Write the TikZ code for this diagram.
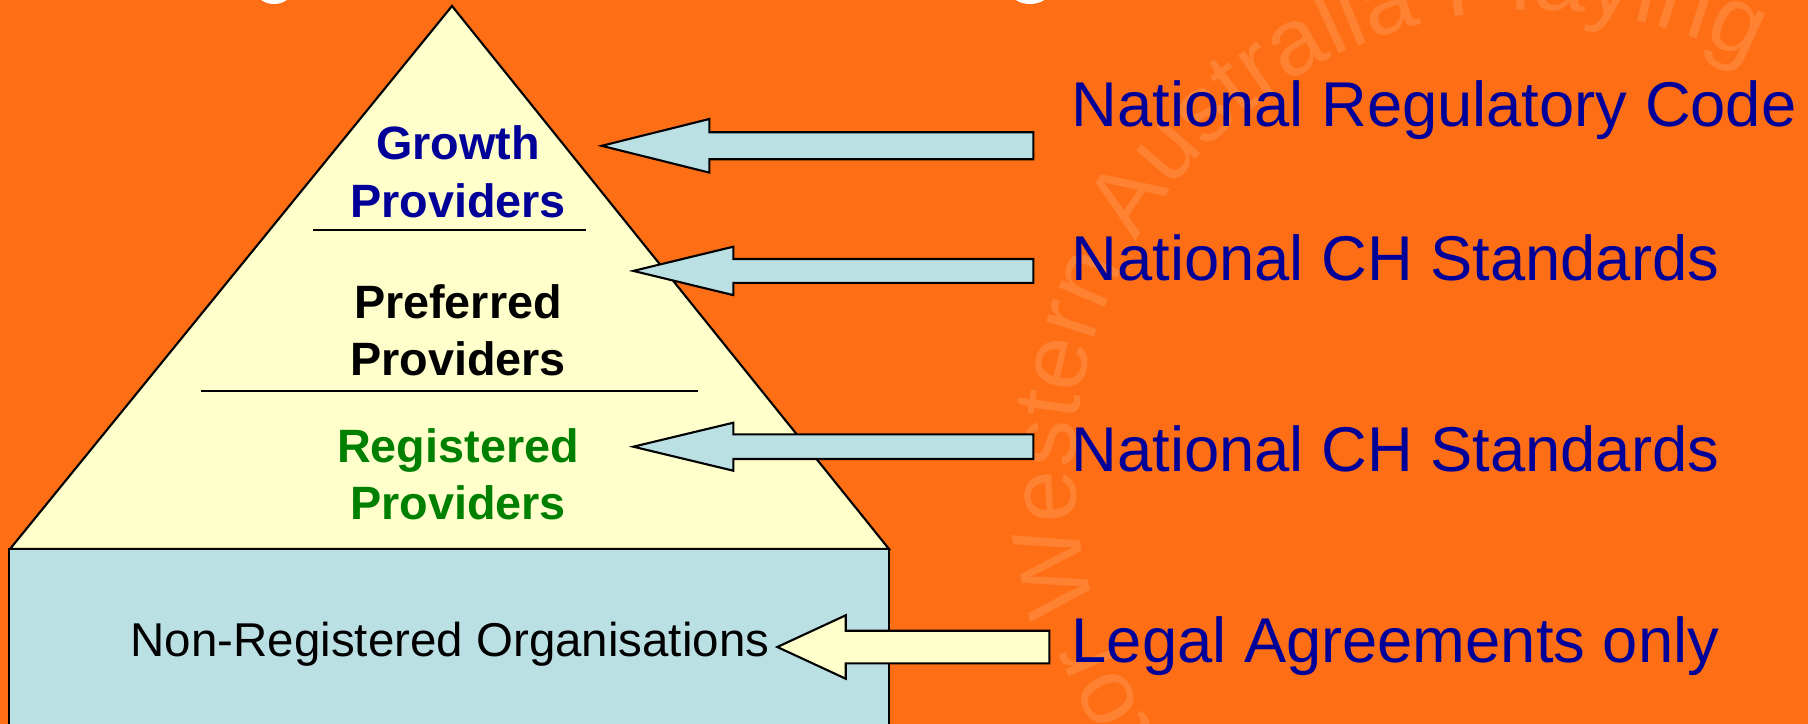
\documentclass[tikz,border=0pt]{standalone}
\usepackage{fontspec}
\setmainfont{Liberation Sans}
\usetikzlibrary{decorations.text}

\definecolor{bgorange}{RGB}{254,110,20}
\definecolor{wmorange}{RGB}{255,130,50}
\definecolor{pyryellow}{RGB}{255,255,204}
\definecolor{baseblue}{RGB}{187,224,227}
\definecolor{navy}{RGB}{0,0,153}
\definecolor{levelgreen}{RGB}{0,128,0}

% left-pointing block arrow: fill, tip x, axis y, head-back x, tail x, shaft half width, head half width
\newcommand\leftblockarrow[7]{%
  \filldraw[arrowbody, fill=#1] (#2,#3) -- (#4,#3-#7) -- (#4,#3-#6) -- (#5,#3-#6)
    -- (#5,#3+#6) -- (#4,#3+#6) -- (#4,#3+#7) -- cycle;}

\begin{document}
\begin{tikzpicture}[x=0.01cm, y=-0.01cm,
  outline/.style={draw=black, line width=0.6pt, line join=miter},
  arrowbody/.style={draw=black, line width=0.6pt, line join=miter},
  divider/.style={draw=black, line width=0.55pt},
  level/.style={font=\bfseries\fontsize{13.3}{16}\selectfont, inner sep=0pt, anchor=base},
  basetext/.style={font=\fontsize{13.5}{16}\selectfont, inner sep=0pt, anchor=base},
  rulelabel/.style={font=\fontsize{18}{22}\selectfont, text=navy, inner sep=0pt, anchor=base west}]

\useasboundingbox (0,0) rectangle (1808,724);
\clip (0,0) rectangle (1808,724);
\fill[bgorange] (0,0) rectangle (1808,724);

% faint circular watermark
\begin{scope}[x=1cm, y=1cm]
  \path[decorate, decoration={text along path, text align=left,
      text={|\fontsize{27}{27}\selectfont\color{wmorange}|Sector Western Australia Playing}}]
    (15.35,-4.70) ++(235:4.6) arc[start angle=235, end angle=30, radius=4.6];
\end{scope}

% lower edge of the heading letters
\fill[white] (274,-8) ellipse [x radius=17, y radius=12];
\fill[white] (1030,-8) ellipse [x radius=19, y radius=12];

% pyramid and its base
\filldraw[outline, fill=pyryellow] (452,6) -- (889,549) -- (10,549) -- cycle;
\filldraw[outline, fill=baseblue] (9,549) rectangle (889,760);
\draw[divider] (313,230) -- (586,230);
\draw[divider] (201,391) -- (698,391);

% levels
\node[level, text=navy] (growth) at (458,159) {Growth};
\node[level, text=navy] (growthprov) at (458,217) {Providers};
\node[level, text=black] (pref) at (458,318) {Preferred};
\node[level, text=black] (prefprov) at (458,375.5) {Providers};
\node[level, text=levelgreen] (reg) at (458,462) {Registered};
\node[level, text=levelgreen] (regprov) at (458,519.5) {Providers};
\node[basetext] (nonreg) at (450,656) {Non-Registered Organisations};

% arrows
\leftblockarrow{baseblue}{601.7}{145.8}{709.3}{1033.3}{13.5}{26.8}
\leftblockarrow{baseblue}{633.3}{270.9}{733.3}{1033.3}{11.9}{24.2}
\leftblockarrow{baseblue}{633.3}{446.7}{733.3}{1033.3}{12.3}{24}
\leftblockarrow{pyryellow}{777.3}{647}{845.7}{1049.3}{16.3}{31.7}

% rule labels
\node[rulelabel] (code) at (1071,126) {National Regulatory Code};
\node[rulelabel] (std1) at (1071,280) {National CH Standards};
\node[rulelabel] (std2) at (1071,471) {National CH Standards};
\node[rulelabel] (legal) at (1071,662.5) {Legal Agreements only};
\end{tikzpicture}
\end{document}
